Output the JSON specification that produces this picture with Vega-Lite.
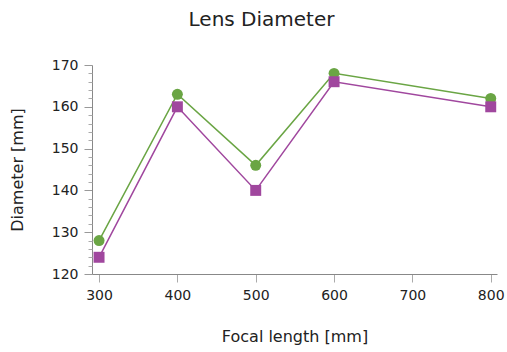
{
  "$schema": "https://vega.github.io/schema/vega-lite/v6.json",
  "width": 405,
  "height": 209,
  "autosize": {"type": "none"},
  "padding": {"left": 92, "top": 65, "right": 10, "bottom": 78},
  "background": "white",
  "title": {"text": "Lens Diameter", "font": "DejaVu Sans", "fontSize": 20, "fontWeight": "normal", "color": "#222222", "anchor": "middle", "dx": -33, "offset": 28},
  "config": {"view": {"stroke": null}, "font": "DejaVu Sans"},
  "data": {"values": [
    {"focal": 300, "diameter": 128, "series": "A"},
    {"focal": 400, "diameter": 163, "series": "A"},
    {"focal": 500, "diameter": 146, "series": "A"},
    {"focal": 600, "diameter": 168, "series": "A"},
    {"focal": 800, "diameter": 162, "series": "A"},
    {"focal": 300, "diameter": 124, "series": "B"},
    {"focal": 400, "diameter": 160, "series": "B"},
    {"focal": 500, "diameter": 140, "series": "B"},
    {"focal": 600, "diameter": 166, "series": "B"},
    {"focal": 800, "diameter": 160, "series": "B"}
  ]},
  "layer": [
    {
      "mark": {"type": "point", "opacity": 0},
      "encoding": {
        "y": {"field": "diameter", "type": "quantitative", "scale": {"domain": [120, 170], "nice": false, "zero": false},
          "axis": {"orient": "left", "values": [122, 124, 126, 128, 132, 134, 136, 138, 142, 144, 146, 148, 152, 154, 156, 158, 162, 164, 166, 168], "labels": false, "labelOverlap": false, "title": null, "domain": false, "ticks": true, "tickSize": 4, "tickWidth": 1, "tickColor": "#aaaaaa", "grid": false, "zindex": 1}}
      }
    },
    {
      "mark": {"type": "line", "strokeWidth": 1.5},
      "encoding": {
        "x": {"field": "focal", "type": "quantitative", "scale": {"domain": [291, 808], "nice": false, "zero": false},
          "axis": {"values": [300, 400, 500, 600, 700, 800], "title": "Focal length [mm]", "titleFontSize": 16, "titleFontWeight": "normal", "titleColor": "#222222", "titlePadding": 26, "labelFontSize": 14, "labelColor": "#222222", "labelPadding": 6, "tickSize": 8, "tickColor": "#aaaaaa", "domainColor": "#888888", "grid": false}},
        "y": {"field": "diameter", "type": "quantitative",
          "axis": {"orient": "left", "values": [120, 130, 140, 150, 160, 170], "title": "Diameter [mm]", "titleFontSize": 16, "titleFontWeight": "normal", "titleColor": "#222222", "titlePadding": 26, "labelFontSize": 14, "labelColor": "#222222", "labelPadding": 6, "tickSize": 8, "tickColor": "#999999", "domainColor": "#888888", "grid": false}},
        "color": {"field": "series", "type": "nominal", "scale": {"domain": ["A", "B"], "range": ["#6aa544", "#a0479e"]}, "legend": null}
      }
    },
    {
      "mark": {"type": "point", "filled": true, "opacity": 1},
      "encoding": {
        "x": {"field": "focal", "type": "quantitative"},
        "y": {"field": "diameter", "type": "quantitative", "axis": null},
        "color": {"field": "series", "type": "nominal", "legend": null},
        "shape": {"field": "series", "type": "nominal", "scale": {"domain": ["A", "B"], "range": ["circle", "square"]}, "legend": null},
        "size": {"value": 120}
      }
    }
  ],
  "resolve": {"axis": {"y": "independent"}}
}
